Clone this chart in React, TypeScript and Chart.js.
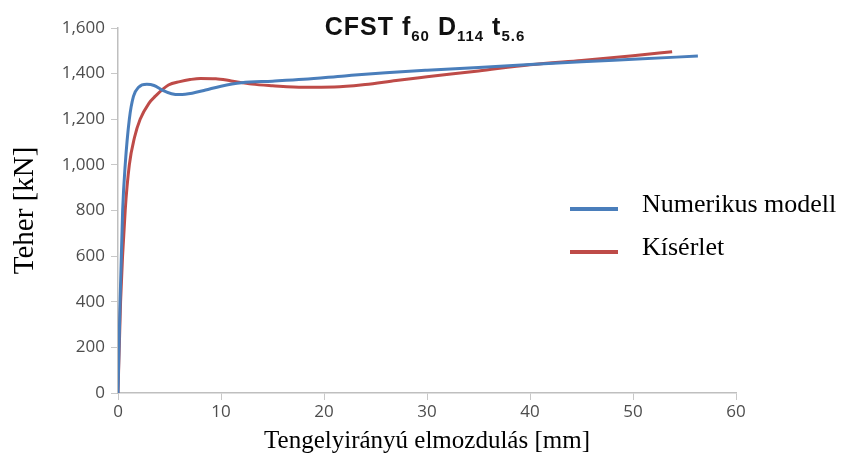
import React, { useEffect, useRef } from "react";
import { Chart, registerables } from "chart.js";

Chart.register(...registerables);

// ---- data ----
const seriesNames = ["Numerikus modell", "Kísérlet"];
const blueX = [0, 0.2, 0.45, 0.7, 1.1, 1.5, 2.0, 2.8, 3.5, 4.3, 5.2, 6.0, 7.2, 8.5, 10, 12, 15, 18, 22, 26, 30, 35, 40, 45, 50, 56.3];
const blueY = [0, 400, 800, 1000, 1200, 1300, 1340, 1353, 1348, 1328, 1312, 1308, 1314, 1328, 1345, 1360, 1367, 1375, 1390, 1404, 1415, 1427, 1440, 1452, 1463, 1477];
const redX = [0, 0.25, 0.7, 1.1, 1.6, 2.15, 3.0, 3.6, 4.9, 6.0, 7.0, 8.0, 9.5, 11, 13, 15, 18, 21, 24, 27, 30, 35, 40, 45, 50, 53.8];
const redY = [0, 400, 800, 1000, 1120, 1200, 1270, 1300, 1350, 1365, 1374, 1379, 1378, 1368, 1354, 1347, 1340, 1341, 1352, 1370, 1386, 1412, 1439, 1458, 1478, 1496];
const xTicks = [0, 10, 20, 30, 40, 50, 60];
const yTicks = [0, 200, 400, 600, 800, 1000, 1200, 1400, 1600];
const titleParts: [string, string][] = [["CFST f", "60"], [" D", "114"], [" t", "5.6"]];
const xTitle = "Tengelyirányú elmozdulás [mm]";
const yTitle = "Teher [kN]";

const BLUE = "#4A7EBB";
const RED = "#BE4B48";

const toPts = (xs: number[], ys: number[]) => xs.map((x, i) => ({ x, y: ys[i] }));

const titlePlugin = {
  id: "subTitle",
  afterDraw(chart: any) {
    const ctx = chart.ctx as CanvasRenderingContext2D;
    ctx.save();
    const big = "bold 25px 'Liberation Sans', Arial, sans-serif";
    const small = "bold 15px 'Liberation Sans', Arial, sans-serif";
    (ctx as any).letterSpacing = "1px";
    let total = 0;
    for (const [m, s] of titleParts) {
      ctx.font = big;
      total += ctx.measureText(m).width;
      ctx.font = small;
      total += ctx.measureText(s).width;
    }
    let x = 425 - total / 2;
    const base = 35;
    ctx.fillStyle = "#111";
    ctx.textBaseline = "alphabetic";
    ctx.textAlign = "left";
    for (const [m, s] of titleParts) {
      ctx.font = big;
      ctx.fillText(m, x, base);
      x += ctx.measureText(m).width;
      ctx.font = small;
      ctx.fillText(s, x, base + 6);
      x += ctx.measureText(s).width;
    }
    ctx.restore();
  },
};

const legendPlugin = {
  id: "customLegend",
  afterDraw(chart: any) {
    const ctx = chart.ctx as CanvasRenderingContext2D;
    ctx.save();
    const rows = [
      { name: seriesNames[0], color: BLUE, y: 209 },
      { name: seriesNames[1], color: RED, y: 252 },
    ];
    ctx.font = "26px 'Liberation Serif', 'Times New Roman', serif";
    ctx.textBaseline = "middle";
    ctx.textAlign = "left";
    for (const r of rows) {
      ctx.strokeStyle = r.color;
      ctx.lineWidth = 4;
      ctx.beginPath();
      ctx.moveTo(570, r.y);
      ctx.lineTo(618, r.y);
      ctx.stroke();
      ctx.fillStyle = "#000";
      ctx.fillText(r.name, 642, r.y - 4);
    }
    ctx.restore();
  },
};

export default function App() {
  const ref = useRef<HTMLCanvasElement | null>(null);
  useEffect(() => {
    document.body.style.margin = "0";
    const canvas = ref.current!;
    const tickFont = { family: "'Open Sans', sans-serif", size: 17 };
    const chart = new Chart(canvas, {
      type: "scatter",
      data: {
        datasets: [
          {
            label: seriesNames[0],
            data: toPts(blueX, blueY),
            showLine: true,
            borderColor: BLUE,
            backgroundColor: BLUE,
            borderWidth: 3,
            pointRadius: 0,
            cubicInterpolationMode: "monotone",
          },
          {
            label: seriesNames[1],
            data: toPts(redX, redY),
            showLine: true,
            borderColor: RED,
            backgroundColor: RED,
            borderWidth: 3,
            pointRadius: 0,
            cubicInterpolationMode: "monotone",
          },
        ],
      },
      options: {
        animation: false,
        responsive: false,
        maintainAspectRatio: false,
        layout: { padding: { top: 28, right: 107, left: 0, bottom: 0 } },
        plugins: {
          legend: { display: false },
          title: { display: false },
          tooltip: { enabled: false },
        },
        scales: {
          x: {
            type: "linear",
            min: 0,
            max: 60,
            afterBuildTicks: (s: any) => {
              s.ticks = xTicks.map((v) => ({ value: v }));
            },
            afterFit: (s: any) => {
              s.height = 70;
            },
            grid: { drawOnChartArea: false, drawTicks: true, tickLength: 7, color: "#c8c8c8" },
            border: { display: true, color: "#bfbfbf", width: 1.5 },
            ticks: { color: "#4d4d4d", font: tickFont, padding: 2, maxRotation: 0 },
            title: {
              display: true,
              text: xTitle,
              color: "#000",
              font: { family: "'Liberation Serif', 'Times New Roman', serif", size: 25 },
              padding: { top: 0, bottom: 7 },
            },
          },
          y: {
            type: "linear",
            min: 0,
            max: 1600,
            afterBuildTicks: (s: any) => {
              s.ticks = yTicks.map((v) => ({ value: v }));
            },
            afterFit: (s: any) => {
              s.width = 118;
            },
            grid: { drawOnChartArea: false, drawTicks: true, tickLength: 7, color: "#c8c8c8" },
            border: { display: true, color: "#bfbfbf", width: 1.5 },
            ticks: {
              color: "#4d4d4d",
              font: tickFont,
              padding: 6,
              callback: (v: any) => Number(v).toLocaleString("en-US"),
            },
            title: {
              display: true,
              text: yTitle,
              color: "#000",
              font: { family: "'Liberation Serif', 'Times New Roman', serif", size: 29 },
              padding: { top: 8, bottom: 0 },
            },
          },
        },
      },
      plugins: [titlePlugin, legendPlugin],
    } as any);
    return () => chart.destroy();
  }, []);
  return (
    <div style={{ width: 843, height: 463, background: "#fff" }}>
      <canvas ref={ref} width={843} height={463} style={{ display: "block" }} />
    </div>
  );
}
